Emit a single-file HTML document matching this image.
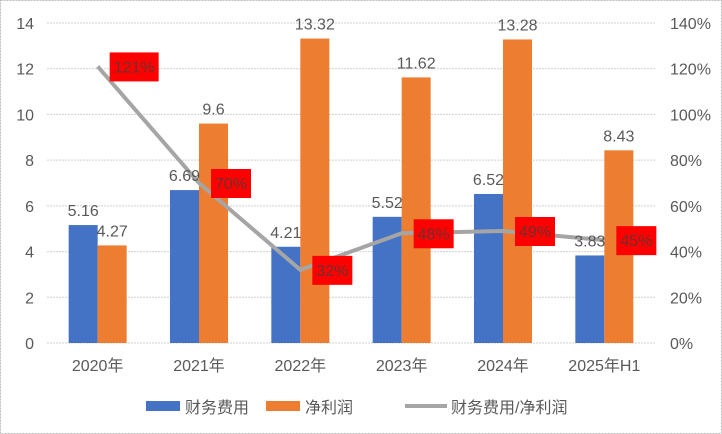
<!DOCTYPE html>
<html><head><meta charset="utf-8"><style>
body{margin:0;background:#fff}
svg{display:block;font-family:"Liberation Sans","Noto Sans CJK SC",sans-serif}
</style></head><body>
<svg id="c" width="722" height="434">
<rect x="0.5" y="0.5" width="721" height="433" fill="#fff" stroke="#bbb" stroke-dasharray="2,1"/>
<g id="grid"></g><g id="bars"></g><g id="line"></g><g id="labels"></g>
<g>
<rect x="146" y="401" width="34" height="10" fill="#4472c4"/>
<text x="185" y="413" font-size="16" fill="#595959">财务费用</text>
<rect x="266" y="401" width="34" height="10" fill="#ed7d31"/>
<text x="305" y="413" font-size="16" fill="#595959">净利润</text>
<line x1="405" y1="406" x2="447" y2="406" stroke="#a5a5a5" stroke-width="4"/>
<text x="451" y="413" font-size="16" fill="#595959">财务费用/净利润</text>
</g>
</svg>
<script>
const categories=["2020年","2021年","2022年","2023年","2024年","2025年H1"];
const financeCost=[5.16,6.69,4.21,5.52,6.52,3.83];
const netProfit=[4.27,9.6,13.32,11.62,13.28,8.43];
const ratio=[121,70,32,48,49,45];
const leftTicks=[0,2,4,6,8,10,12,14];
const rightTicks=["0%","20%","40%","60%","80%","100%","120%","140%"];
const NS="http://www.w3.org/2000/svg";
const X0=47,X1=655,Y0=343,Y1=23,step=(X1-X0)/categories.length;
const y=v=>Y0-(v/14)*(Y0-Y1);
const yr=p=>Y0-(p/140)*(Y0-Y1);
const cx=i=>X0+step*(i+0.5);
function mk(tag,at,parent,txt){const e=document.createElementNS(NS,tag);for(const k in at)e.setAttribute(k,at[k]);if(txt!==undefined)e.textContent=txt;document.getElementById(parent).appendChild(e);return e;}
leftTicks.forEach((t,i)=>{
 const g=mk('line',{x1:X0,x2:X1,y1:y(t),y2:y(t),stroke:'#d0d0d0','stroke-dasharray':'2,1'},'grid');
 
 
 const l=mk('text',{x:34,y:y(t)+6,'font-size':16,fill:'#595959','text-anchor':'end'},'grid',t);
 
 
 const r=mk('text',{x:670,y:y(t)+6,'font-size':16,fill:'#595959'},'grid',rightTicks[i]);
 
 
});
const bw=29;
categories.forEach((c,i)=>{
 const x=cx(i);
 const b=mk('rect',{x:x-bw,y:y(financeCost[i]),width:bw,height:Y0-y(financeCost[i]),fill:'#4472c4'},'bars');
 
 
 const o=mk('rect',{x:x,y:y(netProfit[i]),width:bw,height:Y0-y(netProfit[i]),fill:'#ed7d31'},'bars');
 
 
 const t1=mk('text',{x:x-bw/2,y:y(financeCost[i])-9,'font-size':16,fill:'#595959','text-anchor':'middle'},'labels',financeCost[i]);
 
 
 const t2=mk('text',{x:x+bw/2,y:y(netProfit[i])-9,'font-size':16,fill:'#595959','text-anchor':'middle'},'labels',netProfit[i]);
 
 
 const xl=mk('text',{x:x,y:371,'font-size':16,fill:'#595959','text-anchor':'middle'},'labels',c);
 
 
});
const pl=mk('polyline',{points:ratio.map((p,i)=>cx(i)+','+yr(p)).join(' '),fill:'none',stroke:'#a5a5a5','stroke-width':4,'stroke-linejoin':'round'},'line');


ratio.forEach((p,i)=>{
 const s=p+'%';const w=s.length>3?49:40;
 const bx=cx(i)+12,by=yr(p)-14;
 const r=mk('rect',{x:bx,y:by,width:w,height:29,fill:'#ff0000'},'labels');
 
 
 const t=mk('text',{x:bx+w/2,y:by+20,'font-size':16,fill:'#6b3030','text-anchor':'middle'},'labels',s);
 
 
});
</script>
</body></html>
